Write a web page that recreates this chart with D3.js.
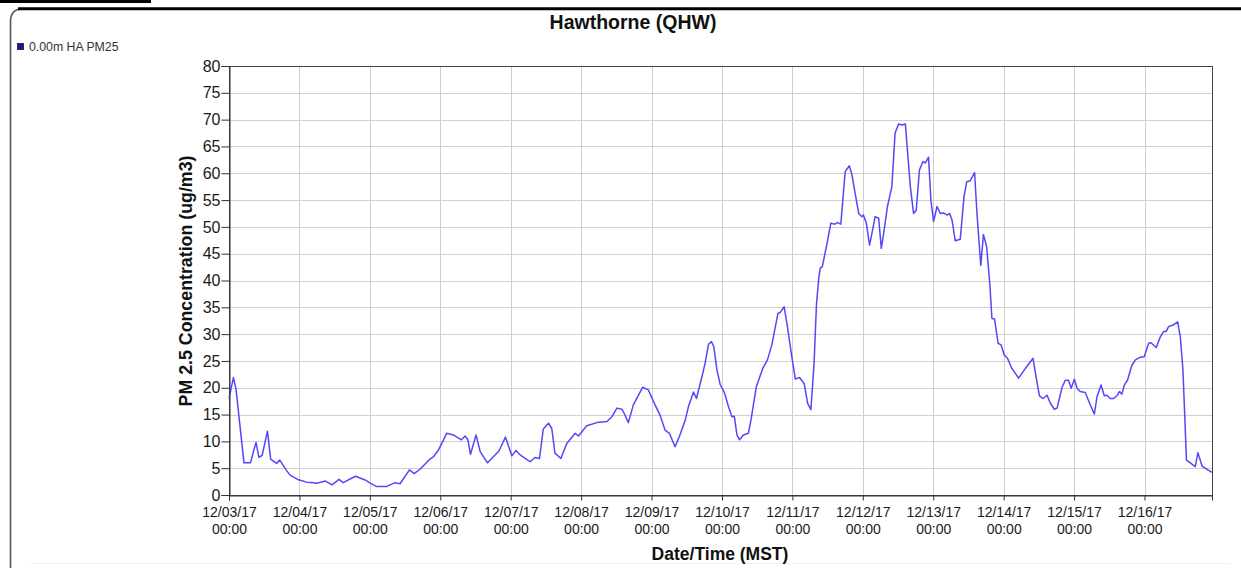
<!DOCTYPE html>
<html>
<head>
<meta charset="utf-8">
<script src="https://cdn.jsdelivr.net/npm/d3@7/dist/d3.min.js"></script>
<style>
  html, body { margin: 0; padding: 0; background: #fff; }
  svg { display: block; font-family: "Liberation Sans", Arial, sans-serif; }
</style>
</head>
<body>
<svg id="chart" width="1241" height="568"></svg>
<script>
// ---- Data ----
const title = "Hawthorne (QHW)";
const seriesName = "0.00m HA PM25";
const yLabel = "PM 2.5 Concentration (ug/m3)";
const xLabel = "Date/Time (MST)";
const startDate = [2017, 11, 3];           // 12/03/17 00:00
const totalHours = 335;                    // to 12/16/17 23:00
const yTicks = [0,5,10,15,20,25,30,35,40,45,50,55,60,65,70,75,80];
const dayTickLabels = ["12/03/17","12/04/17","12/05/17","12/06/17","12/07/17","12/08/17","12/09/17",
                       "12/10/17","12/11/17","12/12/17","12/13/17","12/14/17","12/15/17","12/16/17"];
const timeTickLabel = "00:00";

// hours after 12/03/17 00:00
const hours = [0,1.5,2.4,5.1,7.3,9.2,10.2,11.3,13.1,14.2,16.2,17.3,19.7,20.8,23.4,26.5,28.7,29.9,32.9,35.1,
  37.5,38.9,43.1,46.4,48.1,50.2,53.8,56.6,58.3,61.5,63.1,65.1,68.5,69.6,71.4,74.2,76.5,77.4,79.2,80.5,
  81.4,82.3,84.2,85.6,88.1,92.0,94.2,96.4,97.8,99.2,102.6,104.3,105.8,107.1,108.9,110.0,111.1,113.1,115.1,118.0,
  119.1,121.9,125.4,128.8,130.5,132.2,133.9,134.7,136.1,137.8,141.0,142.9,145.2,146.9,148.6,150.1,152.0,153.5,155.5,156.6,
  158.3,159.3,161.2,162.3,163.4,164.4,165.2,166.3,167.4,168.9,170.2,171.4,172.2,173.1,174.0,175.3,177.0,177.9,179.7,181.9,
  183.5,185.0,187.1,187.8,189.2,190.3,191.8,193.0,194.4,196.0,197.2,198.3,199.4,200.2,201.0,201.5,202.2,203.8,205.1,206.4,
  207.4,208.5,210.0,211.4,212.3,213.8,214.6,215.7,216.2,217.2,218.3,219.1,220.2,221.4,222.3,223.1,224.4,225.9,227.0,228.2,
  229.3,230.5,231.2,232.2,233.3,234.2,235.3,236.5,237.3,238.4,239.2,240.1,241.3,242.4,243.5,244.7,245.6,246.4,247.5,249.2,
  250.5,251.4,252.6,254.1,254.9,256.2,257.1,258.2,259.3,260.0,260.9,262.1,263.1,264.2,265.3,266.8,269.1,271.4,274.0,275.1,
  276.2,277.4,278.8,279.9,281.3,282.2,283.9,285.0,286.1,287.0,288.1,289.0,290.1,291.8,293.3,294.9,295.8,297.2,298.3,299.2,
  300.3,301.5,302.6,303.5,304.3,305.1,306.2,307.7,308.9,310.6,311.9,313.4,314.2,316.0,317.4,318.5,319.4,320.2,321.7,323.3,
  324.2,325.1,326.3,327.6,329.3,330.2,331.6,333.3,335.0];
const pm25 = [18.0,21.9,19.7,6.0,6.0,9.8,7.0,7.4,11.9,6.7,5.9,6.5,4.5,3.7,2.9,2.4,2.3,2.2,2.6,1.9,
  2.9,2.3,3.5,2.8,2.2,1.6,1.6,2.3,2.1,4.7,4.0,4.8,6.7,7.1,8.4,11.5,11.2,10.9,10.3,11.0,
  10.3,7.6,11.2,8.1,6.0,8.2,10.8,7.3,8.3,7.5,6.2,7.0,6.8,12.3,13.4,12.4,7.8,6.8,9.6,11.5,
  11.0,12.9,13.5,13.7,14.6,16.2,16.0,15.2,13.5,16.8,20.1,19.6,16.8,14.9,12.1,11.5,9.0,10.9,14.0,16.5,
  19.2,18.0,22.1,24.7,28.1,28.6,27.7,23.3,20.6,19.0,16.5,14.6,14.7,11.2,10.3,11.2,11.5,14.0,20.2,23.6,
  25.2,28.0,33.9,34.0,35.1,31.4,25.8,21.6,21.9,20.8,17.1,15.9,24.6,35.5,40.5,42.3,42.6,46.9,50.7,50.5,
  50.8,50.5,60.3,61.4,59.7,55.0,52.5,51.9,52.2,50.7,46.6,48.8,51.9,51.6,46.0,48.8,53.8,57.5,67.5,69.2,
  69.0,69.2,64.3,57.5,52.5,53.1,60.6,62.2,61.9,63.0,55.0,51.0,53.8,52.5,52.6,52.2,52.5,51.3,47.4,47.7,
  55.7,58.4,58.6,60.1,52.5,42.8,48.6,46.3,39.2,32.9,32.8,28.3,28.0,26.1,25.5,23.6,21.8,23.6,25.5,21.8,
  18.5,18.0,18.6,17.1,16.0,16.2,20.1,21.4,21.4,19.9,21.6,19.9,19.3,19.1,17.1,15.1,18.3,20.5,18.5,18.6,
  18.0,18.0,18.5,19.3,18.8,20.5,21.4,24.2,25.2,25.7,25.8,28.3,28.4,27.5,29.5,30.5,30.5,31.4,31.7,32.3,
  29.5,23.3,6.5,6.0,5.3,7.9,5.4,4.8,4.2];

// ---- Build ----
const svg = d3.select("#chart");
const W = 1241, H = 568;
const plot = { left: 229, right: 1212, top: 66, bottom: 495 };

const t0 = new Date(startDate[0], startDate[1], startDate[2], 0, 0);
const toDate = h => new Date(t0.getTime() + h * 3600e3);
const data = hours.map((h, i) => ({ t: toDate(h), v: pm25[i] }));
const dayTicks = dayTickLabels.map((_, i) => new Date(startDate[0], startDate[1], startDate[2] + i));

const x = d3.scaleTime().domain([t0, toDate(totalHours)]).range([plot.left, plot.right]);
const y = d3.scaleLinear().domain([0, 80]).range([plot.bottom, plot.top]);

// page frame
svg.append("rect").attr("x", 0).attr("y", 0).attr("width", 151).attr("height", 3).attr("fill", "#000");
svg.append("path")
  .attr("d", "M10.5,568 L10.5,22 Q10.5,9 22,9")
  .attr("fill", "none").attr("stroke", "#555").attr("stroke-width", 1.6);
svg.append("line").attr("x1", 18).attr("x2", W).attr("y1", 8.8).attr("y2", 8.8)
  .attr("stroke", "#000").attr("stroke-width", 3);
svg.append("line").attr("x1", 30).attr("x2", W - 10).attr("y1", 563.5).attr("y2", 563.5)
  .attr("stroke", "#f2f2f2").attr("stroke-width", 1);

// title
svg.append("text").attr("x", 633).attr("y", 29).attr("text-anchor", "middle")
  .attr("font-size", 19.5).attr("font-weight", "bold").attr("fill", "#111").text(title);

// legend
svg.append("rect").attr("x", 17.5).attr("y", 43.5).attr("width", 6).attr("height", 6)
  .attr("fill", "#1c1a7a").attr("stroke", "#2a2a60").attr("stroke-width", 1);
svg.append("text").attr("x", 29).attr("y", 50.5).attr("font-size", 12.3).attr("fill", "#333").text(seriesName);

// grid
const g = svg.append("g");
g.selectAll("line.hg").data(yTicks).join("line")
  .attr("x1", plot.left).attr("x2", plot.right)
  .attr("y1", d => Math.round(y(d)) + 0.5).attr("y2", d => Math.round(y(d)) + 0.5)
  .attr("stroke", "#cfcfcf").attr("stroke-width", 1);
g.selectAll("line.vg").data(dayTicks).join("line")
  .attr("y1", plot.top).attr("y2", plot.bottom)
  .attr("x1", d => Math.round(x(d)) + 0.5).attr("x2", d => Math.round(x(d)) + 0.5)
  .attr("stroke", "#cfcfcf").attr("stroke-width", 1);

// plot border
svg.append("rect").attr("x", plot.left + 0.5).attr("y", plot.top + 0.5)
  .attr("width", plot.right - plot.left).attr("height", plot.bottom - plot.top)
  .attr("fill", "none").attr("stroke", "#444").attr("stroke-width", 1);

// line
const line = d3.line().x(d => x(d.t)).y(d => y(d.v));
svg.append("path").datum(data).attr("d", line)
  .attr("fill", "none").attr("stroke", "#5348f8").attr("stroke-width", 1.5)
  .attr("stroke-linejoin", "round");

// y axis
const yAxis = d3.axisLeft(y).tickValues(yTicks).tickSize(8).tickPadding(1);
const ya = svg.append("g").attr("transform", `translate(${plot.left + 0.5},0)`).call(yAxis);
ya.select(".domain").attr("stroke", "#333");
ya.selectAll(".tick line").attr("stroke", "#333");
ya.selectAll(".tick text").attr("font-size", 16).attr("fill", "#1a1a1a")
  .attr("font-family", "'Liberation Sans', Arial, sans-serif");

// x axis
const xAxis = d3.axisBottom(x).tickValues(dayTicks).tickSize(5).tickFormat(() => "");
const xa = svg.append("g").attr("transform", `translate(0,${plot.bottom + 0.5})`).call(xAxis);
xa.select(".domain").attr("stroke", "#333");
xa.selectAll(".tick line").attr("stroke", "#333");
xa.selectAll(".tick text").each(function(d, i) {
  const t = d3.select(this).attr("y", null).attr("dy", null)
    .attr("font-size", 14).attr("fill", "#1a1a1a")
    .attr("font-family", "'Liberation Sans', Arial, sans-serif");
  t.append("tspan").attr("x", 0).attr("y", 21.5).text(dayTickLabels[i]);
  t.append("tspan").attr("x", 0).attr("y", 38.5).text(timeTickLabel);
});

// axis titles
svg.append("text").attr("transform", `translate(192,281) rotate(-90)`)
  .attr("text-anchor", "middle").attr("font-size", 17.8).attr("font-weight", "bold")
  .attr("fill", "#111").text(yLabel);
svg.append("text").attr("x", 720).attr("y", 560).attr("text-anchor", "middle")
  .attr("font-size", 17.5).attr("font-weight", "bold").attr("fill", "#111").text(xLabel);
</script>
</body>
</html>
